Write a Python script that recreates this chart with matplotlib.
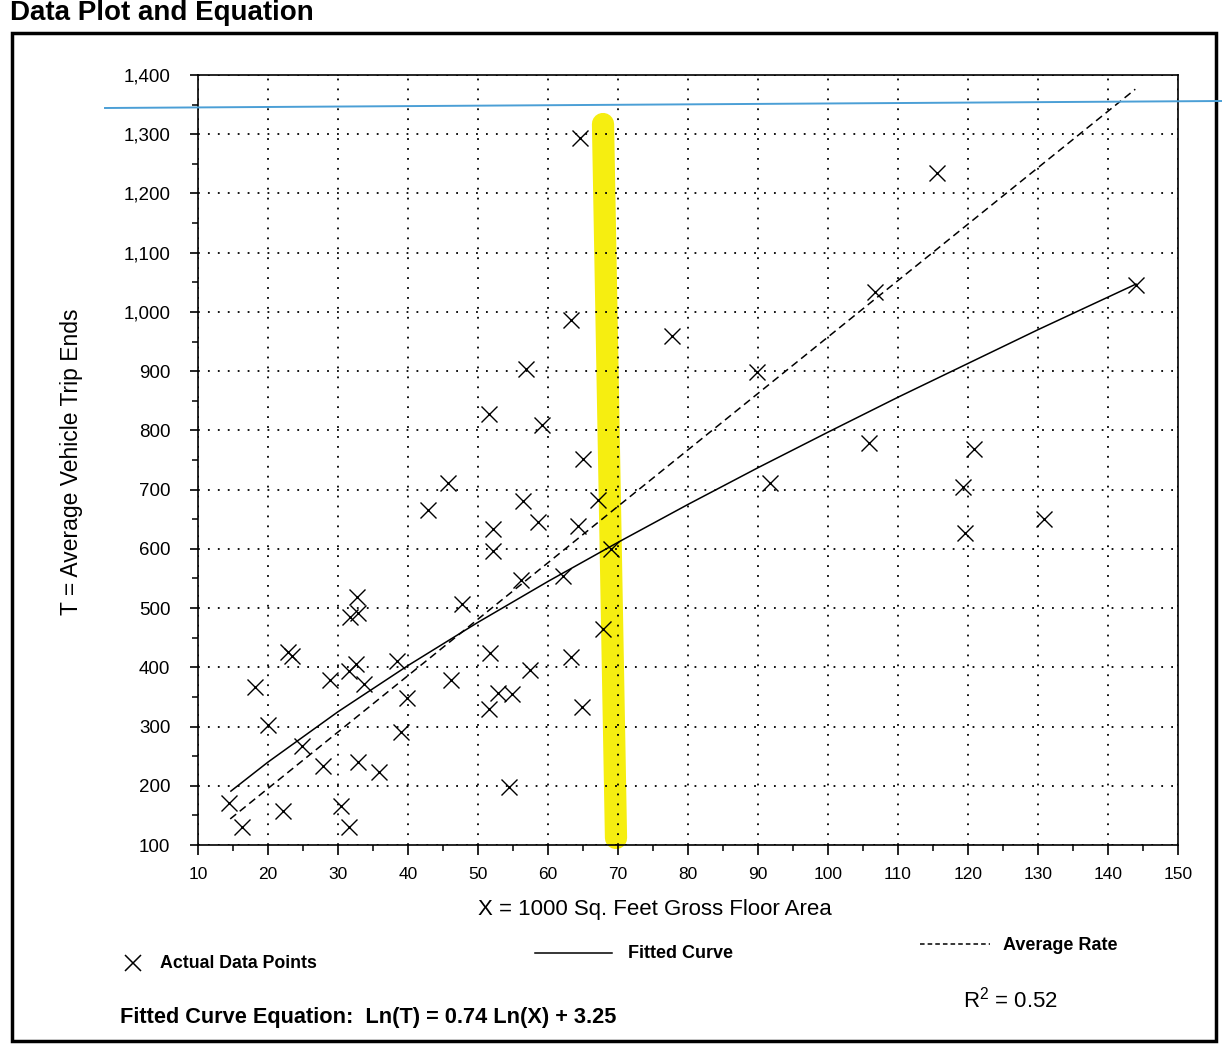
import matplotlib.pyplot as plt
from matplotlib.ticker import MultipleLocator, FuncFormatter
from matplotlib.lines import Line2D
from matplotlib.patches import Rectangle

plt.rcParams['font.family'] = ['Liberation Sans', 'DejaVu Sans']
plt.rcParams['mathtext.fontset'] = 'custom'
plt.rcParams['mathtext.rm'] = 'Liberation Sans'

# data points (X = 1000 sq ft GFA, T = trip ends)
area = [64.6, 115.5, 144.0, 106.7, 63.3, 77.7, 56.8, 89.8, 51.5, 59.1,
        105.8, 120.9, 65.0, 45.7, 91.7, 119.3, 42.8, 56.4, 67.1, 130.8,
        58.5, 64.3, 52.1, 119.6, 52.2, 69.0, 62.1, 56.2, 32.7, 32.8,
        31.7, 47.7, 67.9, 22.9, 23.4, 51.7, 63.3, 38.4, 32.6, 31.5,
        57.4, 18.1, 33.7, 28.8, 46.2, 39.8, 52.9, 54.8, 51.5, 64.9,
        20.0, 39.0, 24.8, 27.9, 32.8, 35.8, 54.4, 14.4, 22.1, 30.4,
        16.3, 31.5]
trips = [1293, 1235, 1046, 1034, 987, 959, 904, 899, 827, 809,
         779, 769, 752, 712, 712, 705, 665, 681, 682, 650,
         645, 639, 633, 627, 596, 599, 555, 548, 518, 492,
         485, 507, 464, 426, 419, 425, 418, 411, 405, 394,
         395, 366, 371, 379, 379, 348, 357, 355, 330, 333,
         302, 291, 267, 234, 240, 223, 198, 171, 158, 166,
         130, 130]

# fitted curve
fit_x = [14.7, 20, 30, 40, 50, 60, 70, 80, 90, 100, 110, 120, 130, 144]
fit_t = [191, 240, 325, 403, 476, 545, 611, 675, 737, 797, 856, 913, 970, 1047]

# average rate, dashed line end points
avg_x = [14.6, 143.9]
avg_t = [144, 1376]

x_ticks = list(range(10, 151, 10))
y_ticks = list(range(100, 1401, 100))

W, H = 1222, 1051
fig = plt.figure(figsize=(W / 100, H / 100), dpi=100)


def fx(x):
    return x / W


def fy(y):
    return 1 - y / H


ax = fig.add_axes([fx(198), fy(845), 980 / W, 770 / H])
ax.plot(area, trips, 'x', color='black', ms=11, mew=1.0, zorder=3)
ax.plot(fit_x, fit_t, '-', color='black', lw=1.1, zorder=2)
ax.plot(avg_x, avg_t, color='black', lw=1.1, linestyle=(0, (5, 3)), zorder=2)

ax.set_xlim(10, 150)
ax.set_ylim(100, 1400)
ax.set_xticks(x_ticks)
ax.set_yticks(y_ticks)
ax.xaxis.set_minor_locator(MultipleLocator(5))
ax.yaxis.set_minor_locator(MultipleLocator(50))
ax.yaxis.set_major_formatter(FuncFormatter(lambda v, p: f'{v:,.0f}'))
ax.tick_params(axis='x', which='major', direction='out', length=7, width=1.2,
               pad=9, labelsize=12.5)
ax.tick_params(axis='y', which='major', direction='out', length=6, width=1.2,
               pad=14, labelsize=13.5)
ax.tick_params(which='minor', direction='out', length=4, width=1.1)
ax.grid(True, which='major', color='black', linestyle=(0, (1, 4.5)), lw=1.3)
for s in ax.spines.values():
    s.set_linewidth(1.2)

# highlighter and pen mark on the paper
ax.add_line(Line2D([fx(603), fx(616)], [fy(124), fy(838)], transform=fig.transFigure,
                   color='#f6ee10', lw=16, solid_capstyle='round', zorder=1, clip_on=False))
fig.add_artist(Line2D([fx(105), fx(1222)], [fy(108), fy(101)], color='#4b9fd6', lw=1.4))

# axis titles
fig.text(fx(655), fy(909), 'X = 1000 Sq. Feet Gross Floor Area', fontsize=16,
         ha='center', va='center')
fig.text(fx(72), fy(462), 'T = Average Vehicle Trip Ends', fontsize=16.5,
         rotation=90, ha='center', va='center')

# legend block
fig.add_artist(Line2D([fx(133)], [fy(963)], marker='x', color='black', ms=12, mew=1.1))
fig.text(fx(160), fy(964), 'Actual Data Points', fontsize=12.8, weight='bold', va='center')
fig.add_artist(Line2D([fx(535), fx(612)], [fy(953), fy(953)], color='black', lw=1.1))
fig.text(fx(628), fy(954), 'Fitted Curve', fontsize=13, weight='bold', va='center')
fig.add_artist(Line2D([fx(920), fx(990)], [fy(944), fy(944)], color='black', lw=1.1,
                      linestyle=(0, (3, 2))))
fig.text(fx(1003), fy(945), 'Average Rate', fontsize=13, weight='bold', va='center')
fig.text(fx(963), fy(1000), 'R$^2$ = 0.52', fontsize=16, va='center')
fig.text(fx(120), fy(1018), 'Fitted Curve Equation:  Ln(T) = 0.74 Ln(X) + 3.25',
         fontsize=15.7, weight='bold', va='center')

# page title and frame
fig.text(fx(10), fy(20), 'Data Plot and Equation', fontsize=20, weight='bold',
         va='baseline')
fig.add_artist(Rectangle((fx(12), fy(1041)), (1216 - 12) / W, (1041 - 33) / H,
                         fill=False, lw=2.5, edgecolor='black'))

fig.savefig('out.png', dpi=100)
